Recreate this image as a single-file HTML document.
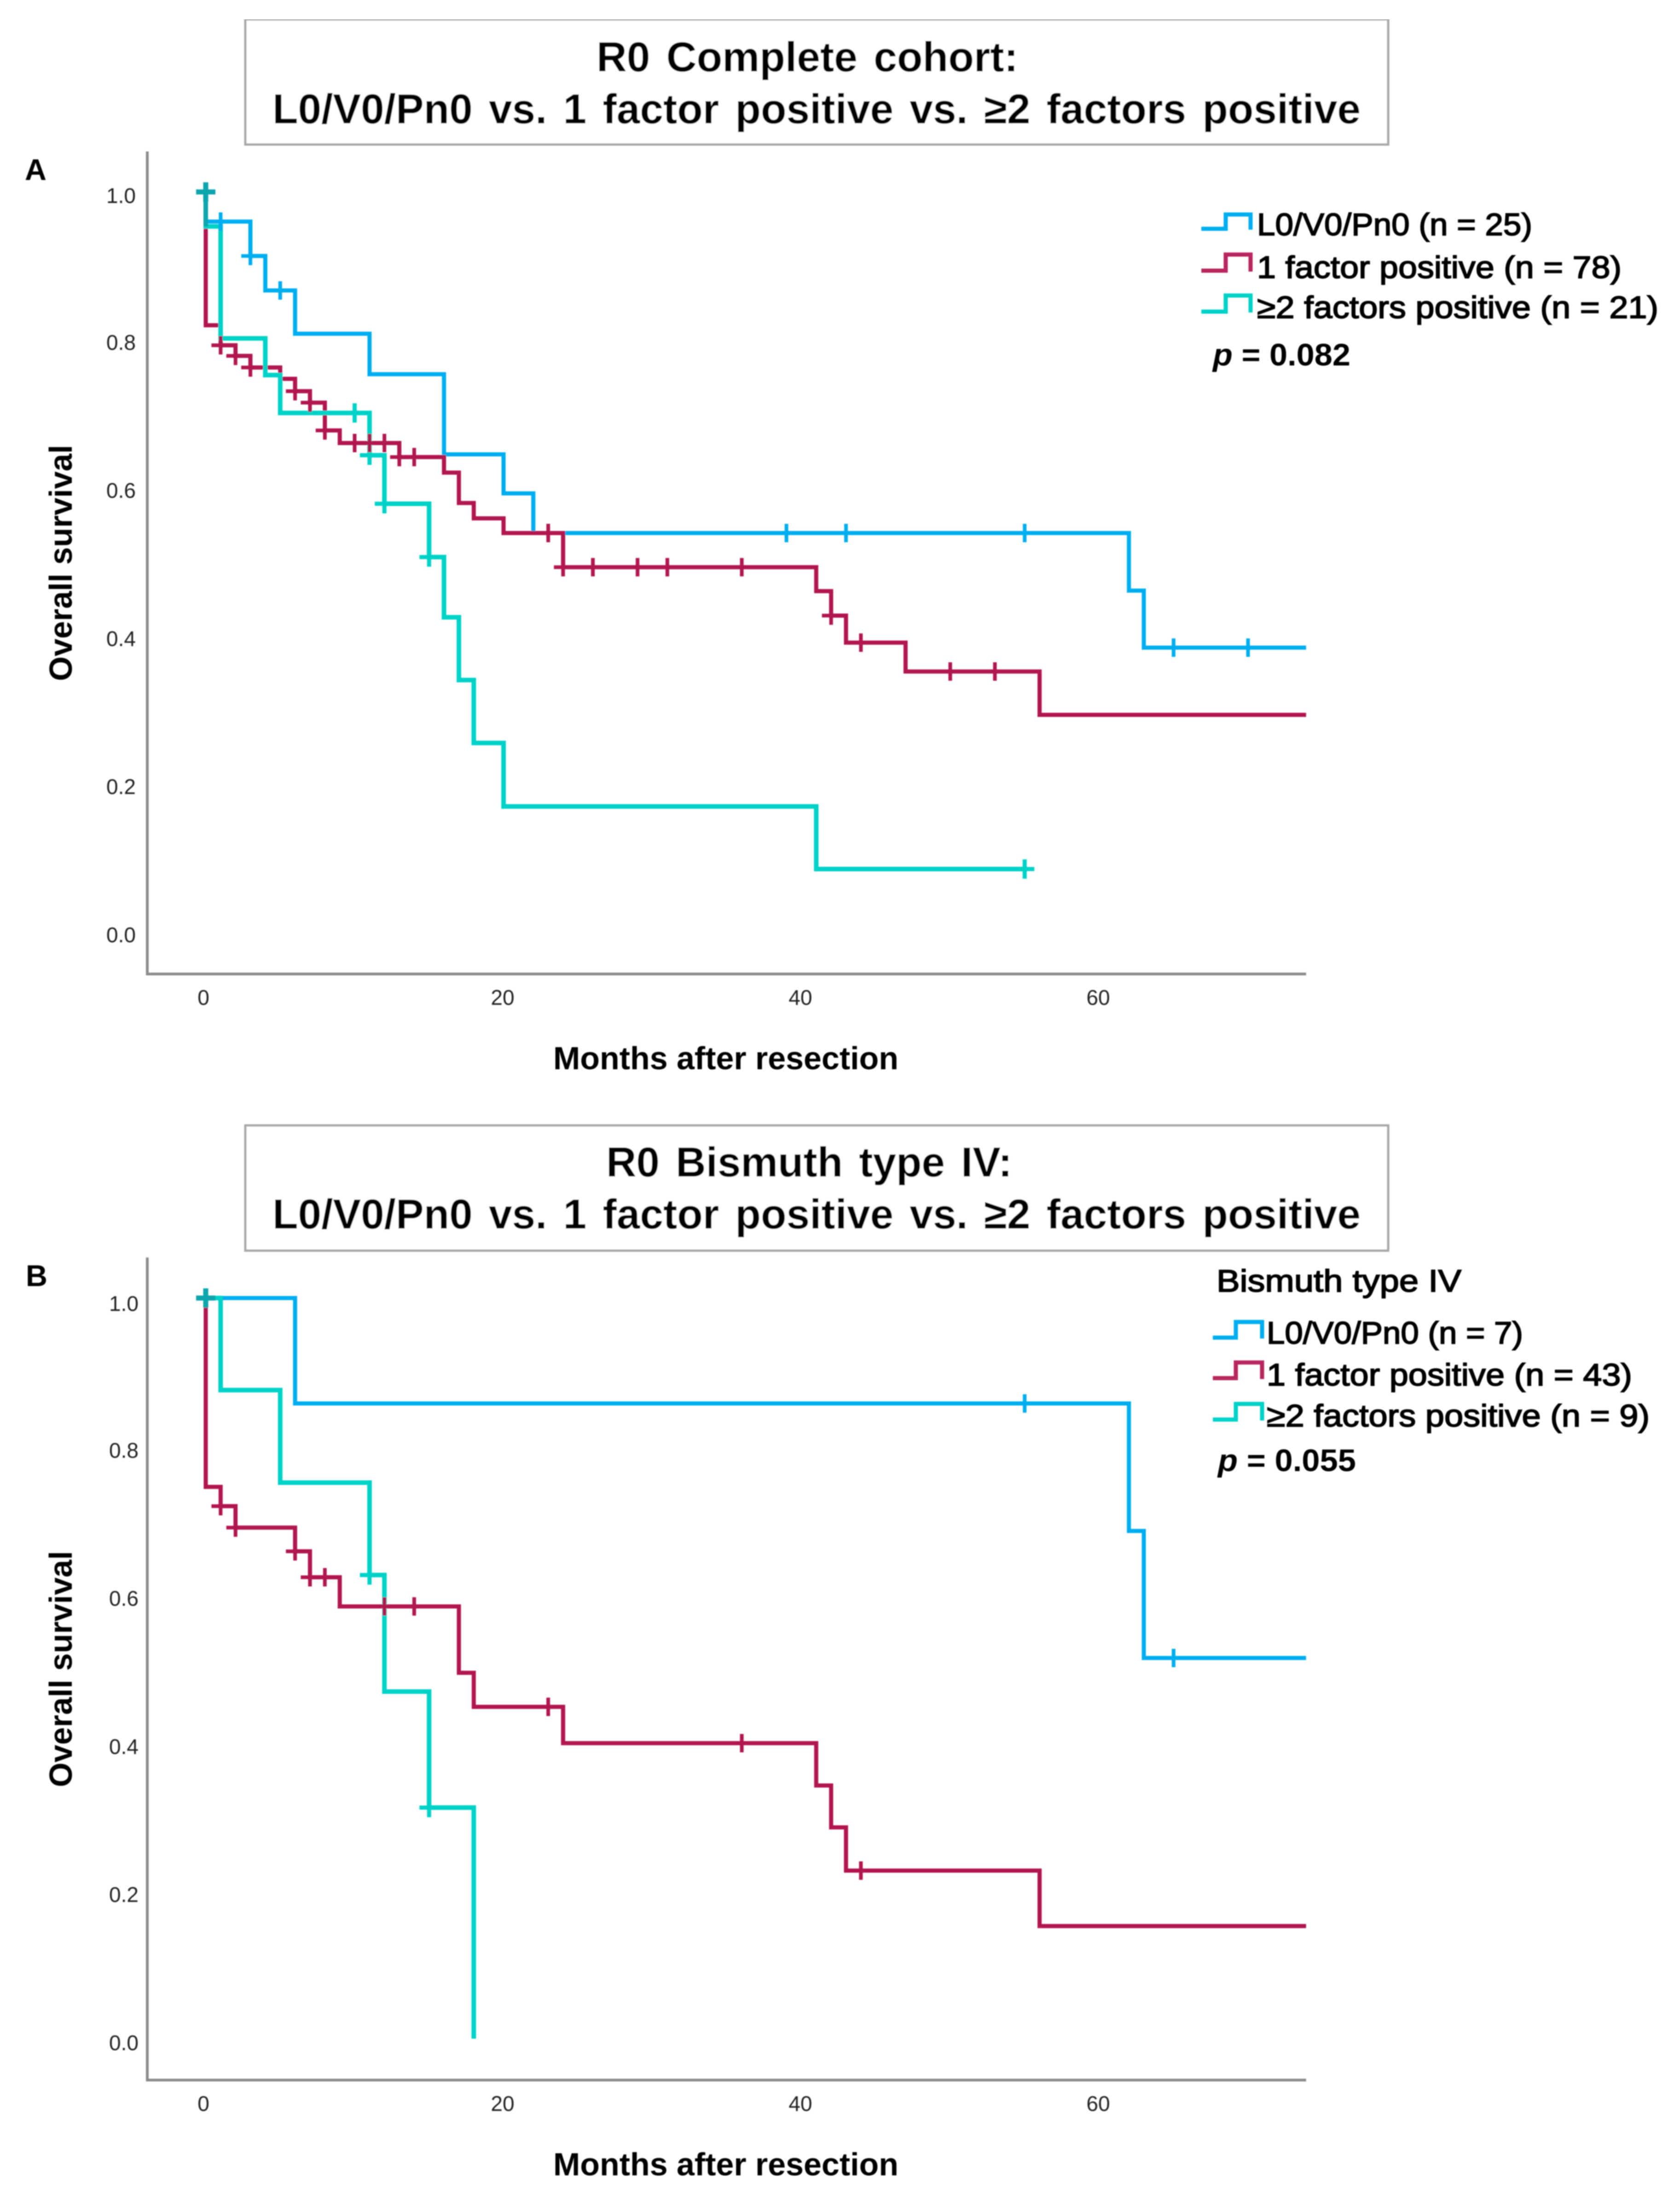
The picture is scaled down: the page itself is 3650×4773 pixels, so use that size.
<!DOCTYPE html>
<html lang="en">
<head>
<meta charset="utf-8">
<title>Overall survival Kaplan-Meier curves</title>
<style>
html,body{margin:0;padding:0;background:#fff;}
svg{display:block;}
text{font-family:"Liberation Sans",Arial,sans-serif;fill:#000;}
.title{font-size:91px;font-weight:700;word-spacing:10px;}
.letter{font-size:65px;font-weight:700;}
.axis-title{font-size:70px;font-weight:700;}
.tick{font-size:46px;fill:#222;}
.leg{font-size:68px;stroke:#000;stroke-width:2px;}
.pval{font-size:68px;font-weight:700;}
.legkey{fill:none;stroke-width:9;stroke-linejoin:miter;}
</style>
</head>
<body>
<svg id="chart" xmlns="http://www.w3.org/2000/svg" width="3650" height="4773" viewBox="0 0 3650 4773">
<defs><filter id="soft" x="0" y="0" width="100%" height="100%"><feGaussianBlur stdDeviation="1.1"/></filter></defs>
<rect width="3650" height="4773" fill="#fff"/>
<g id="root" filter="url(#soft)">
  <rect x="533" y="42" width="2483" height="272" fill="#fff" stroke="#a8a8a8" stroke-width="5"/>
  <text class="title" x="1296" y="155" textLength="916" lengthAdjust="spacingAndGlyphs">R0 Complete cohort:</text>
  <text class="title" x="592" y="268" textLength="2364" lengthAdjust="spacingAndGlyphs">L0/V0/Pn0 vs. 1 factor positive vs. ≥2 factors positive</text>
  <text class="letter" x="54" y="391">A</text>

  <path class="legkey" stroke="#00aeef" d="M2610 497H2663V466H2717V499"/>
  <text class="leg" x="2731" y="511" textLength="598" lengthAdjust="spacingAndGlyphs">L0/V0/Pn0 (n = 25)</text>
  <path class="legkey" stroke="#b8285f" d="M2610 588H2663V553H2717V590"/>
  <text class="leg" x="2731" y="604" textLength="792" lengthAdjust="spacingAndGlyphs">1 factor positive (n = 78)</text>
  <path class="legkey" stroke="#00d2c8" d="M2610 677H2663V642H2717V679"/>
  <text class="leg" x="2731" y="691" textLength="872" lengthAdjust="spacingAndGlyphs">≥2 factors positive (n = 21)</text>
  <text class="pval" x="2635" y="794" textLength="299" lengthAdjust="spacingAndGlyphs"><tspan font-style="italic">p</tspan> = 0.082</text>

  <rect x="533" y="2445" width="2483" height="272" fill="#fff" stroke="#a8a8a8" stroke-width="5"/>
  <text class="title" x="1317" y="2556" textLength="882" lengthAdjust="spacingAndGlyphs">R0 Bismuth type IV:</text>
  <text class="title" x="592" y="2669" textLength="2364" lengthAdjust="spacingAndGlyphs">L0/V0/Pn0 vs. 1 factor positive vs. ≥2 factors positive</text>
  <text class="letter" x="56" y="2794">B</text>

  <text class="leg" x="2643" y="2806" textLength="532" lengthAdjust="spacingAndGlyphs">Bismuth type IV</text>
  <path class="legkey" stroke="#00aeef" d="M2635 2906H2685V2872H2742V2908"/>
  <text class="leg" x="2752" y="2919" textLength="557" lengthAdjust="spacingAndGlyphs">L0/V0/Pn0 (n = 7)</text>
  <path class="legkey" stroke="#b8285f" d="M2635 2994H2685V2960H2742V2996"/>
  <text class="leg" x="2752" y="3010" textLength="794" lengthAdjust="spacingAndGlyphs">1 factor positive (n = 43)</text>
  <path class="legkey" stroke="#00d2c8" d="M2635 3084H2685V3050H2742V3086"/>
  <text class="leg" x="2752" y="3099" textLength="832" lengthAdjust="spacingAndGlyphs">≥2 factors positive (n = 9)</text>
  <text class="pval" x="2646" y="3196" textLength="300" lengthAdjust="spacingAndGlyphs"><tspan font-style="italic">p</tspan> = 0.055</text>
</g>
</svg>
<script>
// Axis tick labels
const monthTicks = [0, 20, 40, 60];
const survivalTicks = [0.0, 0.2, 0.4, 0.6, 0.8, 1.0];

// Panel A: complete cohort
const aBlueTimes = [0, 3, 4, 6, 11, 16, 20, 22, 62, 63];
const aBlueSurvival = [0.96, 0.9135, 0.867, 0.8086, 0.7539, 0.6457, 0.593, 0.5395, 0.4617, 0.3847];
const aBlueCensored = [1, 3, 5, 39, 43, 55, 65, 70];
const aBlueEnd = 73.9;

const aRedTimes = [0, 1, 2, 3, 5, 6, 7, 8, 9, 13, 16, 17, 18, 20, 24, 41, 42, 43, 47, 56];
const aRedSurvival = [0.82, 0.793, 0.7787, 0.763, 0.7477, 0.731, 0.7155, 0.678, 0.661, 0.642, 0.621, 0.58, 0.5593, 0.5395, 0.4933, 0.461, 0.428, 0.3915, 0.3525, 0.294];
const aRedCensored = [1, 2, 3, 6, 7, 8, 10, 11, 12, 13, 14, 23, 24, 26, 29, 31, 36, 42, 44, 50, 53];
const aRedEnd = 73.9;

const aCyanTimes = [0, 1, 4, 5, 11, 12, 15, 16, 17, 18, 20, 41];
const aCyanSurvival = [0.9535, 0.8023, 0.7527, 0.7016, 0.6445, 0.579, 0.507, 0.4257, 0.341, 0.256, 0.1703, 0.0858];
const aCyanCensored = [10, 11, 12, 15, 55];
const aCyanEnd = 55;

// Panel B: Bismuth type IV
const bBlueTimes = [6, 62, 63];
const bBlueSurvival = [0.8577, 0.6855, 0.514];
const bBlueCensored = [55, 65];
const bBlueEnd = 73.9;

const bRedTimes = [0, 1, 2, 6, 7, 9, 17, 18, 24, 41, 42, 43, 56];
const bRedSurvival = [0.745, 0.719, 0.69, 0.658, 0.623, 0.5836, 0.494, 0.448, 0.399, 0.3418, 0.2853, 0.2269, 0.152];
const bRedCensored = [1, 2, 6, 7, 8, 12, 14, 23, 36, 44];
const bRedEnd = 73.9;

const bCyanTimes = [1, 5, 11, 12, 15, 18];
const bCyanSurvival = [0.8757, 0.7508, 0.626, 0.4686, 0.312, 0];
const bCyanCensored = [11, 15];
const bCyanEnd = 18;

const SVG_NS = 'http://www.w3.org/2000/svg';
const root = document.getElementById('root');
const xScale = t => 447 + 32.35 * t;
const COL = { blue: '#00aeef', red: '#b0134f', cyan: '#00d2c8', start: '#08a6ad' };

function make(tag, attrs, parent) {
  const el = document.createElementNS(SVG_NS, tag);
  for (const k in attrs) el.setAttribute(k, attrs[k]);
  parent.appendChild(el);
  return el;
}
function levelAt(times, surv, t) {
  let v = 1;
  for (let i = 0; i < times.length; i++) if (times[i] <= t) v = surv[i];
  return v;
}
function stepPath(times, surv, end, y) {
  let d = 'M' + xScale(0) + ' ' + y(1);
  for (let i = 0; i < times.length; i++) {
    d += 'H' + xScale(times[i]) + 'V' + y(surv[i]);
  }
  if (end > times[times.length - 1]) d += 'H' + xScale(end);
  return d;
}
function drawCross(g, t, v, y, color, w, len, prefix) {
  const vert = make('line', { x1: xScale(t), x2: xScale(t), y1: y(v) - len, y2: y(v) + len, stroke: color, 'stroke-width': w }, g);
  
  
  const horiz = make('line', { x1: xScale(t) - len, x2: xScale(t) + len, y1: y(v), y2: y(v), stroke: color, 'stroke-width': w }, g);
  
  
}
function drawSeries(g, times, surv, end, y, color, width, prefix) {
  const p = make('path', { d: stepPath(times, surv, end, y), fill: 'none', stroke: color, 'stroke-width': width, 'stroke-linejoin': 'miter' }, g);
  
  
}
function drawCensors(g, times, surv, censored, y, color, w, len, prefix) {
  censored.forEach(t => drawCross(g, t, levelAt(times, surv, t), y, color, w, len, prefix));
}

function drawPanel(name, y0, yTop, axisLeft, tickRight, tickShift, bluT, bluS, bluC, bluE, redT, redS, redC, redE, cyaT, cyaS, cyaC, cyaE) {
  const y = v => y0 - 1609 * v;
  const g = make('g', {}, root);
  
  
  const axisBottom = y0 + 90;

  const yAxis = make('line', { x1: axisLeft, x2: axisLeft, y1: yTop, y2: axisBottom + 3, stroke: '#8c8c8c', 'stroke-width': 6 }, g);
  
  
  const xAxis = make('line', { x1: axisLeft - 3, x2: xScale(73.9), y1: axisBottom, y2: axisBottom, stroke: '#8c8c8c', 'stroke-width': 6 }, g);
  
  

  survivalTicks.forEach(v => {
    const lbl = make('text', { class: 'tick', x: tickRight, y: y(v) + 25 + tickShift + (v === 1 ? 3 : 0), 'text-anchor': 'end' }, g);
    lbl.textContent = v.toFixed(1);
    
    
  });
  monthTicks.forEach(t => {
    const lbl = make('text', { class: 'tick', x: xScale(t) - (t === 0 ? 5 : 2), y: axisBottom + 67, 'text-anchor': 'middle' }, g);
    lbl.textContent = String(t);
    
    
  });

  const xTitle = make('text', { class: 'axis-title', x: 1202, y: y0 + 297, textLength: 750, lengthAdjust: 'spacingAndGlyphs' }, g);
  xTitle.textContent = 'Months after resection';
  
  
  const yMid = y0 - 803;
  const yTitle = make('text', { class: 'axis-title', x: 0, y: 0, 'text-anchor': 'middle', textLength: 513, lengthAdjust: 'spacingAndGlyphs', transform: 'translate(156 ' + yMid + ') rotate(-90)' }, g);
  yTitle.textContent = 'Overall survival';
  
  

  drawSeries(g, bluT, bluS, bluE, y, COL.blue, 9, name + '-l0v0pn0');
  drawSeries(g, redT, redS, redE, y, COL.red, 9, name + '-one-factor');
  drawSeries(g, cyaT, cyaS, cyaE, y, COL.cyan, 10, name + '-two-factors');

  if (cyaT[0] === 0) {
    const overlap = make('line', { x1: xScale(0), x2: xScale(0), y1: y(1), y2: y(cyaS[0]), stroke: COL.start, 'stroke-width': 10 }, g);
    
    
  }

  drawCensors(g, bluT, bluS, bluC, y, COL.blue, 8, 20, name + '-l0v0pn0');
  drawCensors(g, cyaT, cyaS, cyaC, y, COL.cyan, 9, 21, name + '-two-factors');
  drawCensors(g, redT, redS, redC, y, COL.red, 8, 20, name + '-one-factor');
  drawCross(g, 0, 1, y, COL.start, 11, 21, name + '-baseline');
}

drawPanel('panel-a', 2026, 329, 320, 295, -4,
  aBlueTimes, aBlueSurvival, aBlueCensored, aBlueEnd,
  aRedTimes, aRedSurvival, aRedCensored, aRedEnd,
  aCyanTimes, aCyanSurvival, aCyanCensored, aCyanEnd);
drawPanel('panel-b', 4429, 2732, 320, 301, 0,
  bBlueTimes, bBlueSurvival, bBlueCensored, bBlueEnd,
  bRedTimes, bRedSurvival, bRedCensored, bRedEnd,
  bCyanTimes, bCyanSurvival, bCyanCensored, bCyanEnd);
</script>
</body>
</html>
